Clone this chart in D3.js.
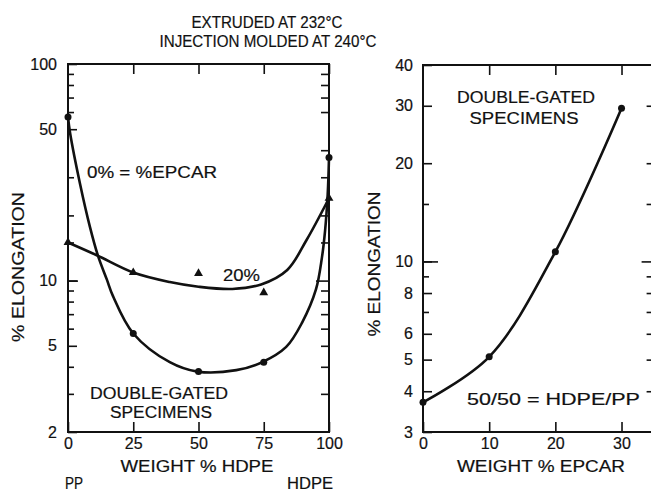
<!DOCTYPE html>
<html lang="en">
<head>
<meta charset="UTF-8">
<title>Elongation vs composition</title>
<style>
  body { margin: 0; background: #fff; }
  svg { display: block; }
  .frame { fill: none; stroke: #111; stroke-width: 2px; }
  .tick line { stroke: #111; stroke-width: 1.6px; }
  .fit { fill: none; stroke: #111; stroke-width: 2.6px; }
  .lbl { font-family: "Liberation Sans", Arial, sans-serif; font-size: 17px; fill: #111;
         stroke: #111; stroke-width: 0.2px; }
</style>
<script src="https://cdn.jsdelivr.net/npm/d3@7"></script>
</head>
<body>
<div class="wrap"></div>
<script>
  // ---- left panel: % elongation vs weight % HDPE
  var hdpe = [0, 25, 50, 75, 100];
  var elong0 = [57, 5.7, 3.8, 4.2, 37];        // 0% EPCAR (dots)
  var elong20 = [15, 10.9, 10.8, 8.8, 24];     // 20% EPCAR (triangles)
  // smoothed curves as drawn in the figure
  var fit0X = [0, 0.8, 4.6, 8.4, 11.5, 14.9, 17.2, 25, 39, 49.6, 64.5, 74.4, 83.6, 89.7, 95, 97.3, 98.5, 99.5, 100];
  var fit0Y = [57, 48, 28, 17.7, 13, 10.1, 8.5, 5.7, 4.2, 3.8, 3.86, 4.2, 4.94, 6.4, 9.1, 12.8, 17, 25, 37];
  var fit20X = [0, 11, 25, 39, 50, 63, 74, 84, 91.4, 100];
  var fit20Y = [15, 13.1, 10.9, 9.85, 9.37, 9.15, 9.6, 11.2, 15.4, 24];

  var leftXTicks = [0, 25, 50, 75, 100];
  var leftYLabels = [2, 5, 10, 50, 100];
  var leftYMinor = [3, 4, 6, 7, 8, 9, 15, 20, 30, 60, 70, 80, 90];
  var leftYRight = [3, 4, 5, 6, 7, 8, 9, 15, 20, 30, 40, 60, 70, 80, 90];

  // ---- right panel: % elongation vs weight % EPCAR (50/50 HDPE/PP)
  var epcar = [0, 10, 20, 30];
  var elongBlend = [3.7, 5.1, 10.7, 29.5];

  var rightXTicks = [0, 10, 20, 30];
  var rightYLabels = [3, 4, 5, 6, 8, 10, 20, 30, 40];
  var rightYMinor = [7, 9, 15];
  var rightYRight = [4, 5, 6, 7, 8, 9, 15, 20, 30];

  var W = 651, H = 493;
  var svg = d3.select(".wrap").append("svg")
      .attr("width", W)
      .attr("height", H);

  var xL = d3.scaleLinear().domain([0, 100]).range([68, 329]);
  var yL = d3.scaleLog().domain([2, 100]).range([432, 64]);
  var xR = d3.scaleLinear().domain([0, 35]).range([423, 654.6]);
  var yR = d3.scaleLog().domain([3, 40]).range([432, 65]);

  function label(s, x, y, w, anchor, rot, size) {
    var t = svg.append("text")
        .attr("class", "lbl")
        .attr("text-anchor", anchor || "middle")
        .attr("textLength", w)
        .attr("lengthAdjust", "spacingAndGlyphs")
        .text(s);
    if (size) t.style("font-size", size + "px");
    if (rot) t.attr("transform", "translate(" + x + "," + y + ") rotate(-90)");
    else t.attr("x", x).attr("y", y);
    return t;
  }

  function axisGroup(axis, tx, ty) {
    var g = svg.append("g")
        .attr("transform", "translate(" + tx + "," + ty + ")")
        .call(axis);
    g.select(".domain").remove();
    g.selectAll("text")
        .attr("font-family", "'Liberation Sans', Arial, sans-serif")
        .attr("font-size", 16)
        .attr("fill", "#111")
        .attr("stroke", "#111")
        .attr("stroke-width", 0.2);
    return g;
  }

  function panel(x, y, o) {
    var x0 = x.range()[0], x1 = x.range()[1];
    var y0 = y.range()[1], y1 = y.range()[0];

    // ticks point inward on all four sides
    axisGroup(d3.axisBottom(x).tickValues(o.xTicks).tickSize(-10).tickPadding(6), 0, y1);
    axisGroup(d3.axisTop(x).tickValues(o.xTicks.slice(1)).tickSize(-10).tickFormat(""), 0, y0);
    axisGroup(d3.axisLeft(y).tickValues(o.yLabels).tickSize(-9).tickPadding(o.pad)
        .tickFormat(d3.format("d")), x0, 0);
    axisGroup(d3.axisLeft(y).tickValues(o.yMinor).tickSize(-6).tickFormat(""), x0, 0);
    axisGroup(d3.axisLeft(y).tickValues([10]).tickSize(-o.longTick).tickFormat(""), x0, 0);
    axisGroup(d3.axisRight(y).tickValues(o.yRight).tickSize(-8).tickFormat(""), x1, 0);
    axisGroup(d3.axisRight(y).tickValues([10]).tickSize(-13).tickFormat(""), x1, 0);

    svg.append("rect")
        .attr("class", "frame")
        .attr("x", x0).attr("y", y0)
        .attr("width", x1 - x0).attr("height", y1 - y0);
  }

  panel(xL, yL, {xTicks: leftXTicks, yLabels: leftYLabels, yMinor: leftYMinor,
                 yRight: leftYRight, pad: 11, longTick: 10});
  panel(xR, yR, {xTicks: rightXTicks, yLabels: rightYLabels, yMinor: rightYMinor,
                 yRight: rightYRight, pad: 10, longTick: 15});

  var line = function(x, y) {
    return d3.line()
        .x(function(d) { return x(d[0]); })
        .y(function(d) { return y(d[1]); })
        .curve(d3.curveCatmullRom.alpha(0.5));
  };

  // left curves
  svg.append("path").datum(d3.zip(fit0X, fit0Y))
      .attr("class", "fit").attr("d", line(xL, yL));
  svg.append("path").datum(d3.zip(fit20X, fit20Y))
      .attr("class", "fit").attr("d", line(xL, yL));

  svg.selectAll("circle.p0").data(d3.zip(hdpe, elong0)).enter().append("circle")
      .attr("class", "p0")
      .attr("r", 3.5)
      .attr("cx", function(d) { return xL(d[0]); })
      .attr("cy", function(d) { return yL(d[1]); })
      .attr("fill", "#111");

  var tri = d3.symbol().type(d3.symbolTriangle).size(34);
  svg.selectAll("path.p20").data(d3.zip(hdpe, elong20)).enter().append("path")
      .attr("class", "p20")
      .attr("d", tri)
      .attr("transform", function(d) { return "translate(" + xL(d[0]) + "," + yL(d[1]) + ")"; })
      .attr("fill", "#111");

  // right curve
  svg.append("path").datum(d3.zip(epcar, elongBlend))
      .attr("class", "fit").attr("d", line(xR, yR));
  svg.selectAll("circle.pb").data(d3.zip(epcar, elongBlend)).enter().append("circle")
      .attr("class", "pb")
      .attr("r", 3.5)
      .attr("cx", function(d) { return xR(d[0]); })
      .attr("cy", function(d) { return yR(d[1]); })
      .attr("fill", "#111");

  // texts
  label("EXTRUDED AT 232°C", 267, 28, 151);
  label("INJECTION MOLDED AT 240°C", 268, 47, 217);

  label("% ELONGATION", 24, 267, 150, "middle", true);
  label("0% = %EPCAR", 87, 178, 130, "start");
  label("20%", 223, 281, 37, "start");
  label("DOUBLE-GATED", 159, 399, 138, "middle", false, 16);
  label("SPECIMENS", 161, 418, 102, "middle", false, 16);
  label("WEIGHT % HDPE", 197, 472, 153);
  label("PP", 74, 489, 18, "middle", false, 16);
  label("HDPE", 310, 489, 46, "middle", false, 16);

  label("% ELONGATION", 380, 264, 145, "middle", true);
  label("DOUBLE-GATED", 526, 103, 138);
  label("SPECIMENS", 524, 124, 109);
  label("50/50 = HDPE/PP", 467, 405, 173, "start");
  label("WEIGHT % EPCAR", 541, 472, 168);
</script>
</body>
</html>
